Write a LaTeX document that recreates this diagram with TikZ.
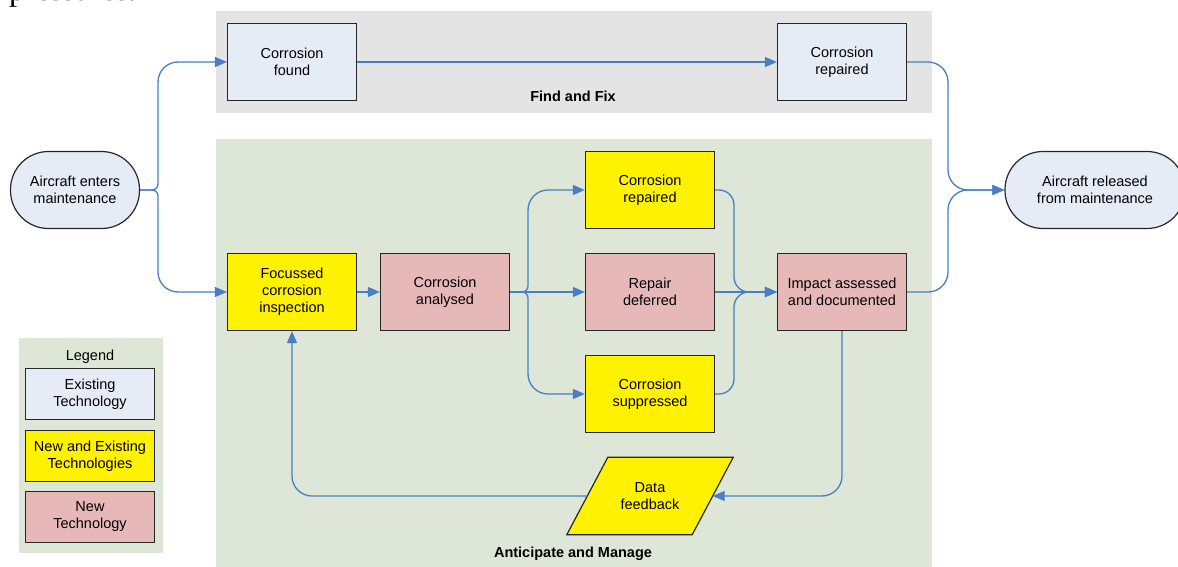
\documentclass[tikz,border=0pt]{standalone}
\usepackage{fontspec}
\setmainfont{Liberation Sans}
\newfontfamily\bodyserif{Liberation Serif}
\usetikzlibrary{arrows.meta}

\definecolor{exblue}{RGB}{230,236,246}
\definecolor{newpink}{RGB}{230,185,184}
\definecolor{bandgray}{RGB}{228,228,228}
\definecolor{bandgreen}{RGB}{222,230,216}
\definecolor{flowblue}{RGB}{74,126,196}

\tikzset{
  box/.style={draw=black!85, line width=1.2pt, minimum width=129pt, minimum height=77pt, inner sep=0pt, align=center},
  existing/.style={box, fill=exblue},
  mixed/.style={box, fill=yellow},
  newtech/.style={box, fill=newpink},
  terminal/.style={box, fill=exblue, rounded corners=38pt},
  legendbox/.style={box, minimum height=51pt},
  flow/.style={draw=flowblue, line width=1.3pt, -{Triangle[length=12pt,width=10pt]}},
  bandlabel/.style={font=\fontsize{14.5}{17}\selectfont\bfseries},
}

\begin{document}
\begin{tikzpicture}[x=1pt,y=-1pt,font=\fontsize{14.5}{17}\selectfont]
    \useasboundingbox (0,0) rectangle (1178,567);
    % Draw the background bands
    \fill[bandgray] (216,11) rectangle (932,113);
    \fill[bandgreen] (216,139) rectangle (932,567);
    \fill[bandgreen] (19,338) rectangle (163,553);
    % Cut-off text of the page above
    \node[anchor=base west, inner sep=0pt, font=\bodyserif\fontsize{32}{38}\selectfont] (pagetext) at (9,1) {pressures.};
    % Draw the start and end
    \node[terminal] (enters) at (75,190) {Aircraft enters\\maintenance};
    \node[terminal, minimum width=180pt] (released) at (1095,190) {Aircraft released\\from maintenance};
    % Find and Fix
    \node[existing] (found) at (292,62) {Corrosion\\found};
    \node[existing] (fixed) at (842,62) {Corrosion\\repaired};
    \node[bandlabel] (fixlabel) at (573,96) {Find and Fix};
    % Anticipate and Manage
    \node[mixed] (inspect) at (292,292) {Focussed\\corrosion\\inspection};
    \node[newtech] (analysed) at (445,292) {Corrosion\\analysed};
    \node[mixed] (repaired) at (650,190) {Corrosion\\repaired};
    \node[newtech] (deferred) at (650,292) {Repair\\deferred};
    \node[mixed] (suppressed) at (650,394) {Corrosion\\suppressed};
    \node[newtech] (impact) at (842,292) {Impact assessed\\and documented};
    \node[minimum width=166pt, minimum height=77pt, inner sep=0pt, align=center] (feedback) at (650,496) {};
    \filldraw[draw=black!85, line width=1.2pt, fill=yellow]
        (feedback.south west) -- ([xshift=-41pt]feedback.south east) -- (feedback.north east)
        -- ([xshift=41pt]feedback.north west) -- cycle;
    \node[align=center] (feedbacktext) at (feedback) {Data\\feedback};
    \node[bandlabel] (managelabel) at (573,554) {Anticipate and Manage};
    % Legend
    \node (legendtitle) at (90,357) {Legend};
    \node[legendbox, fill=exblue] (legexist) at (90,394) {Existing\\Technology};
    \node[legendbox, fill=yellow] (legmixed) at (90,456) {New and Existing\\Technologies};
    \node[legendbox, fill=newpink] (legnew) at (90,517) {New\\Technology};
    % Branch points
    \coordinate (split1) at (158,190);
    \coordinate (join1) at (948,190);
    \coordinate (split2) at (528,292);
    \coordinate (join2) at (734,292);
    % Draw the connectors
    \draw[flow] (enters.east) [rounded corners=6pt] -- (split1) [rounded corners=20pt] -- (split1 |- found.west) -- (found.west);
    \draw[flow] (enters.east) [rounded corners=6pt] -- (split1) [rounded corners=20pt] -- (split1 |- inspect.west) -- (inspect.west);
    \draw[flow] (found) -- (fixed);
    \draw[flow, rounded corners=20pt] (fixed.east) -| (join1) -- (released.west);
    \draw[flow, rounded corners=20pt] (impact.east) -| (join1) -- (released.west);
    \draw[flow] (inspect) -- (analysed);
    \draw[flow] (analysed.east) [rounded corners=6pt] -- (split2) [rounded corners=20pt] -- (split2 |- repaired.west) -- (repaired.west);
    \draw[flow] (analysed) -- (deferred);
    \draw[flow] (analysed.east) [rounded corners=6pt] -- (split2) [rounded corners=20pt] -- (split2 |- suppressed.west) -- (suppressed.west);
    \draw[flow, rounded corners=15pt] (repaired.east) -| (join2) -- (impact.west);
    \draw[flow] (deferred) -- (impact);
    \draw[flow, rounded corners=15pt] (suppressed.east) -| (join2) -- (impact.west);
    \draw[flow, rounded corners=20pt] (impact.south) |- ([xshift=-20.5pt]feedback.east);
    \draw[flow, rounded corners=20pt] ([xshift=20.5pt]feedback.west) -| (inspect.south);
\end{tikzpicture}
\end{document}
